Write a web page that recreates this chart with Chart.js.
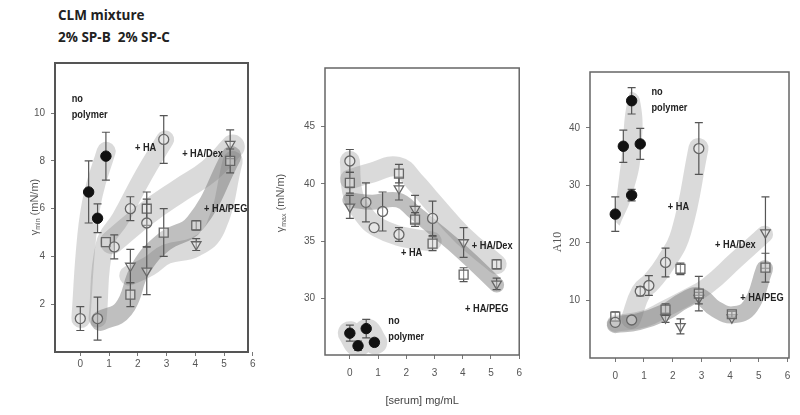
<!DOCTYPE html>
<html lang="en">
<head>
  <meta charset="UTF-8">
  <title>CLM mixture</title>
  <style>
    body {
      margin: 0;
      background: #fff;
      width: 800px;
      height: 415px;
      position: relative;
      overflow: hidden;
      font-family: Arial, sans-serif;
    }
    .heading {
      position: absolute;
      left: 58px;
      top: 4px;
      font-family: "Open Sans", Arial, sans-serif;
      font-weight: bold;
      font-size: 13.5px;
      line-height: 22px;
      color: #222;
    }
    canvas { position: absolute; top: 0; }
    #minChart { left: 0; }
    #maxChart { left: 265px; }
    #areaChart { left: 530px; }
  </style>
  <script src="https://cdn.jsdelivr.net/npm/chart.js"></script>
</head>
<body>

  <div class="heading">CLM mixture<br>2% SP-B&nbsp; 2% SP-C</div>
  <canvas id="minChart" width="265" height="415"></canvas>
  <canvas id="maxChart" width="265" height="415"></canvas>
  <canvas id="areaChart" width="270" height="415"></canvas>

  <script>
    // serum concentration ticks (mg/mL)
    const xTicks = [0, 1, 2, 3, 4, 5, 6];

    // each row: [serum mg/mL, value, error]
    // gamma min (mN/m)
    const minTicks = [2, 4, 6, 8, 10];
    const minNoPolymer = [[0.29, 6.7, 1.3], [0.6, 5.6, 0.6], [0.89, 8.2, 1.0]];
    const minCircles = [[0, 1.4, 0.5], [0.6, 1.4, 0.9], [1.18, 4.4, 0.5], [1.74, 6.0, 0.5], [2.31, 5.4, 1.0], [2.9, 8.9, 1.0]];
    const minSquares = [[0.89, 4.6, 0], [1.74, 2.4, 0.5], [2.31, 6.0, 0.7], [2.9, 5.0, 1.0], [4.03, 5.3, 0.2], [5.21, 8.0, 0.5]];
    const minTriangles = [[1.74, 3.6, 0.7], [2.31, 3.4, 1.0], [4.03, 4.5, 0.25], [5.21, 8.7, 0.6]];

    // gamma max (mN/m)
    const maxTicks = [30, 35, 40, 45];
    const maxNoPolymer = [[0, 27.0, 0.7], [0.29, 25.9, 0.4], [0.58, 27.4, 0.8], [0.87, 26.2, 0.3]];
    const maxCircles = [[0, 42.0, 1.0], [0.57, 38.4, 1.7], [0.86, 36.2, 0], [1.16, 37.6, 1.7], [1.74, 35.6, 0.6], [2.93, 37.0, 1.5]];
    const maxSquares = [[0, 40.1, 0.9], [1.74, 40.9, 0.8], [2.31, 36.9, 0.6], [2.93, 34.8, 0.6], [4.03, 32.1, 0.6], [5.2, 33.0, 0.4]];
    const maxTriangles = [[0, 38.0, 1.0], [1.74, 39.6, 1.0], [2.31, 37.8, 1.2], [4.03, 34.9, 1.3], [5.2, 31.3, 0.5]];

    // A10
    const areaTicks = [10, 20, 30, 40];
    const areaNoPolymer = [[0, 25.0, 3.0], [0.28, 36.8, 2.8], [0.57, 28.3, 1.0], [0.57, 44.7, 2.3], [0.87, 37.2, 2.7]];
    const areaCircles = [[0, 6.2, 0], [0.57, 6.6, 0], [0.87, 11.6, 0.8], [1.17, 12.6, 1.7], [1.75, 16.6, 2.5], [2.91, 36.4, 4.5]];
    const areaSquares = [[0, 7.2, 0.8], [1.75, 8.4, 1.0], [2.27, 15.5, 1.0], [2.91, 11.2, 3.0], [4.06, 7.6, 0.5], [5.23, 15.7, 2.5]];
    const areaTriangles = [[1.75, 7.0, 0.8], [2.27, 5.5, 1.3], [2.91, 10.4, 1.0], [4.06, 7.0, 0], [5.23, 21.8, 6.2]];

    // shaded guide bands (hand drawn in the original), [serum, value]
    const minBandNoPolymer = [[0.02, 1.4], [0.22, 4.8], [0.45, 6.6], [0.9, 8.4]];
    const minBandHA = [[0.6, 1.4], [0.85, 4.5], [1.4, 5.6], [2.2, 7.4], [2.95, 8.9]];
    const minBandUpper = [[1.1, 4.6], [2.3, 5.8], [3.5, 6.8], [4.5, 7.6], [5.3, 8.6]];
    const minBandDark = [[0.7, 1.3], [1.5, 1.8], [2.1, 3.5], [2.9, 4.6], [4.0, 5.4], [5.25, 8.2]];
    const minBandLower = [[1.7, 3.2], [2.4, 3.6], [3.0, 4.1], [4.0, 4.4], [4.7, 5.2], [5.3, 8.0]];

    const maxBandNoPolymer = [[0, 27.0], [0.3, 26.0], [0.6, 27.2], [0.9, 26.2]];
    const maxBandUpper = [[0, 40.4], [0.8, 41.0], [1.7, 41.5], [2.3, 40.2], [2.9, 38.5], [4.0, 35.5], [5.2, 33.0]];
    const maxBandHA = [[0, 42.0], [0.12, 39.0], [0.6, 37.0], [1.0, 36.2], [1.7, 35.5], [2.3, 35.2], [2.9, 35.0]];
    const maxBandMiddle = [[0, 38.6], [0.8, 38.4], [1.7, 38.6], [2.3, 37.5], [2.9, 36.3], [4.0, 34.0], [5.2, 31.2]];

    const areaBandNoPolymer = [[-0.05, 24.0], [0.2, 34.0], [0.5, 46.0], [0.85, 45.0], [0.9, 36.0], [0.6, 28.5], [0.15, 23.0]];
    const areaBandHA = [[0.55, 6.8], [0.9, 11.5], [1.25, 13.2], [1.75, 16.5], [2.3, 22.0], [2.9, 36.5]];
    const areaBandUpper = [[0, 6.0], [1.0, 6.8], [1.75, 8.6], [2.5, 10.5], [3.2, 12.5], [4.2, 17.0], [5.2, 21.5]];
    const areaBandLower = [[0, 5.8], [0.8, 6.3], [1.75, 8.0], [2.4, 10.0], [2.9, 10.8], [3.5, 8.5], [4.1, 7.5], [4.7, 9.0], [5.2, 15.5]];

    // text labels inside the panels (data coordinates of first line)
    const minNotes = [
      { x: -0.3, y: 10.6, text: ['no', 'polymer'] },
      { x: 1.9, y: 8.55, text: ['+ HA'] },
      { x: 3.54, y: 8.3, text: ['+ HA/Dex'] },
      { x: 4.3, y: 6.0, text: ['+ HA/PEG'] }
    ];
    const maxNotes = [
      { x: 1.36, y: 28.1, text: ['no', 'polymer'] },
      { x: 1.81, y: 34.0, text: ['+ HA'] },
      { x: 4.32, y: 34.6, text: ['+ HA/Dex'] },
      { x: 4.08, y: 29.1, text: ['+ HA/PEG'] }
    ];
    const areaNotes = [
      { x: 1.26, y: 46.2, text: ['no', 'polymer'] },
      { x: 1.83, y: 26.3, text: ['+ HA'] },
      { x: 3.47, y: 19.7, text: ['+ HA/Dex'] },
      { x: 4.35, y: 10.5, text: ['+ HA/PEG'] }
    ];

    const LIGHT = 'rgba(120, 120, 120, 0.27)';
    const DARK = 'rgba(95, 95, 95, 0.40)';

    function band(points, color, width, closed) {
      return {
        data: points.map(p => ({ x: p[0], y: p[1] })),
        showLine: true,
        pointRadius: 0,
        borderColor: color,
        backgroundColor: color,
        borderWidth: closed ? 0 : width,
        borderCapStyle: 'round',
        borderJoinStyle: 'round',
        tension: 0.45,
        fill: closed ? 'shape' : false,
        order: 5
      };
    }

    const styles = {
      filled: { pointStyle: 'circle', pointRadius: 5.2, pointBackgroundColor: '#111', pointBorderColor: '#111', pointBorderWidth: 1 },
      circle: { pointStyle: 'circle', pointRadius: 5, pointBackgroundColor: 'rgba(255,255,255,0.35)', pointBorderColor: '#666', pointBorderWidth: 1.3 },
      square: { pointStyle: 'rect', pointRadius: 6.3, pointBackgroundColor: 'rgba(255,255,255,0.35)', pointBorderColor: '#666', pointBorderWidth: 1.3 },
      triangle: { pointStyle: 'triangle', pointRotation: 180, pointRadius: 5.5, pointBackgroundColor: 'rgba(255,255,255,0.35)', pointBorderColor: '#666', pointBorderWidth: 1.3 }
    };

    function markers(rows, style) {
      return Object.assign({
        data: rows.map(r => ({ x: r[0], y: r[1] })),
        err: rows.map(r => r[2]),
        showLine: false,
        order: 1
      }, styles[style]);
    }

    // vertical error bars, drawn just before each marker set
    const errorBars = {
      id: 'errorBars',
      beforeDatasetDraw(chart, args) {
        const ds = chart.data.datasets[args.index];
        if (!ds.err) return;
        const xs = chart.scales.x, ys = chart.scales.y, ctx = chart.ctx;
        ctx.save();
        ctx.strokeStyle = '#555';
        ctx.lineWidth = 1.2;
        ds.data.forEach((p, i) => {
          const e = ds.err[i];
          if (!e) return;
          const px = xs.getPixelForValue(p.x);
          const top = ys.getPixelForValue(p.y + e);
          const bot = ys.getPixelForValue(p.y - e);
          ctx.beginPath();
          ctx.moveTo(px, top); ctx.lineTo(px, bot);
          ctx.moveTo(px - 4, top); ctx.lineTo(px + 4, top);
          ctx.moveTo(px - 4, bot); ctx.lineTo(px + 4, bot);
          ctx.stroke();
        });
        ctx.restore();
      }
    };

    // box round the plot area
    const frame = {
      id: 'frame',
      afterDatasetsDraw(chart, args, opts) {
        const a = chart.chartArea, ctx = chart.ctx;
        ctx.save();
        ctx.strokeStyle = opts.color;
        ctx.lineWidth = opts.width;
        ctx.strokeRect(a.left, a.top, a.right - a.left, a.bottom - a.top);
        ctx.restore();
      }
    };

    // rotated y title with optional subscript
    const yTitle = {
      id: 'yTitle',
      afterDraw(chart, args, opts) {
        const ctx = chart.ctx;
        const parts = opts.parts;
        ctx.save();
        ctx.translate(opts.x, opts.y);
        ctx.rotate(-Math.PI / 2);
        ctx.fillStyle = '#555';
        ctx.textBaseline = 'middle';
        let total = 0;
        parts.forEach(p => {
          ctx.font = p.size + 'px ' + opts.family;
          total += ctx.measureText(p.t).width;
        });
        let cx = -total / 2;
        parts.forEach(p => {
          ctx.font = p.size + 'px ' + opts.family;
          ctx.fillText(p.t, cx, p.dy || 0);
          cx += ctx.measureText(p.t).width;
        });
        ctx.restore();
      }
    };

    // narrow bold labels next to the groups
    function notesPlugin(notes) {
      return {
        id: 'notes',
        afterDatasetsDraw(chart) {
          const ctx = chart.ctx, xs = chart.scales.x, ys = chart.scales.y;
          ctx.fillStyle = '#222';
          ctx.font = 'bold 11px Arial, sans-serif';
          ctx.textBaseline = 'middle';
          notes.forEach(n => {
            n.text.forEach((line, i) => {
              ctx.save();
              ctx.translate(xs.getPixelForValue(n.x), ys.getPixelForValue(n.y) + i * 16);
              ctx.scale(0.84, 1);
              ctx.fillText(line, 0, 0);
              ctx.restore();
            });
          });
        }
      };
    }

    function makeChart(id, cfg) {
      return new Chart(document.getElementById(id), {
        type: 'scatter',
        data: { datasets: cfg.datasets },
        plugins: [errorBars, frame, yTitle, notesPlugin(cfg.notes)],
        options: {
          responsive: false,
          animation: false,
          events: [],
          layout: { padding: { left: 0, top: cfg.top, right: cfg.right, bottom: 0 } },
          plugins: {
            legend: { display: false },
            tooltip: { enabled: false },
            frame: { color: cfg.frameColor, width: cfg.frameWidth },
            yTitle: cfg.yTitle
          },
          scales: {
            x: {
              type: 'linear',
              min: -0.88,
              max: cfg.xMax,
              afterBuildTicks: s => { s.ticks = xTicks.map(v => ({ value: v })); },
              afterFit: s => { s.height = cfg.xHeight; },
              grid: { display: true, drawOnChartArea: false, tickLength: 4, color: '#777' },
              border: { display: false },
              ticks: { color: '#555', font: { size: 10 }, padding: cfg.xPad, maxRotation: 0 },
              title: cfg.xTitle || { display: false }
            },
            y: {
              type: 'linear',
              min: cfg.yMin,
              max: cfg.yMax,
              afterBuildTicks: s => { s.ticks = cfg.yTicks.map(v => ({ value: v })); },
              afterFit: s => { s.width = cfg.yWidth; },
              grid: { display: true, drawOnChartArea: false, tickLength: 4, color: '#777' },
              border: { display: false },
              ticks: { color: '#555', font: { size: 10 }, padding: 6 }
            }
          }
        }
      });
    }

    makeChart('minChart', {
      top: 63, right: 17, yWidth: 55, xHeight: 63, xPad: 2, xMax: 5.83,
      yMin: 0, yMax: 12.1, yTicks: minTicks,
      frameColor: '#555', frameWidth: 2,
      yTitle: { x: 35, y: 207, family: 'Arial, sans-serif', parts: [{ t: 'γ', size: 11 }, { t: 'min', size: 7, dy: 3 }, { t: ' (mN/m)', size: 11 }] },
      notes: minNotes,
      datasets: [
        markers(minNoPolymer, 'filled'),
        markers(minCircles, 'circle'),
        markers(minSquares, 'square'),
        markers(minTriangles, 'triangle'),
        band(minBandNoPolymer, LIGHT, 19),
        band(minBandHA, LIGHT, 18),
        band(minBandUpper, LIGHT, 24),
        band(minBandDark, DARK, 20),
        band(minBandLower, LIGHT, 20)
      ]
    });

    makeChart('maxChart', {
      top: 68, right: 7, yWidth: 60, xHeight: 60, xPad: 8, xMax: 6,
      yMin: 25.1, yMax: 50.1, yTicks: maxTicks,
      frameColor: '#666', frameWidth: 1.5,
      yTitle: { x: 16, y: 203, family: 'Arial, sans-serif', parts: [{ t: 'γ', size: 11 }, { t: 'max', size: 7, dy: 3 }, { t: ' (mN/m)', size: 11 }] },
      xTitle: { display: true, text: '[serum] mg/mL', color: '#444', font: { size: 11 }, padding: { top: 0, bottom: 7 } },
      notes: maxNotes,
      datasets: [
        markers(maxNoPolymer, 'filled'),
        markers(maxCircles, 'circle'),
        markers(maxSquares, 'square'),
        markers(maxTriangles, 'triangle'),
        band(maxBandNoPolymer, LIGHT, 24),
        band(maxBandUpper, LIGHT, 20),
        band(maxBandHA, LIGHT, 20),
        band(maxBandMiddle, DARK, 15)
      ]
    });

    makeChart('areaChart', {
      top: 72, right: 11, yWidth: 60, xHeight: 57, xPad: 8, xMax: 6.05,
      yMin: 0, yMax: 49.7, yTicks: areaTicks,
      frameColor: '#666', frameWidth: 1.5,
      yTitle: { x: 28, y: 242, family: '"Liberation Serif", "Times New Roman", serif', parts: [{ t: 'A10', size: 12 }] },
      notes: areaNotes,
      datasets: [
        markers(areaNoPolymer, 'filled'),
        markers(areaCircles, 'circle'),
        markers(areaSquares, 'square'),
        markers(areaTriangles, 'triangle'),
        band(areaBandNoPolymer, LIGHT, 0, true),
        band(areaBandHA, LIGHT, 20),
        band(areaBandUpper, LIGHT, 17),
        band(areaBandLower, DARK, 17)
      ]
    });
  </script>

</body>
</html>
